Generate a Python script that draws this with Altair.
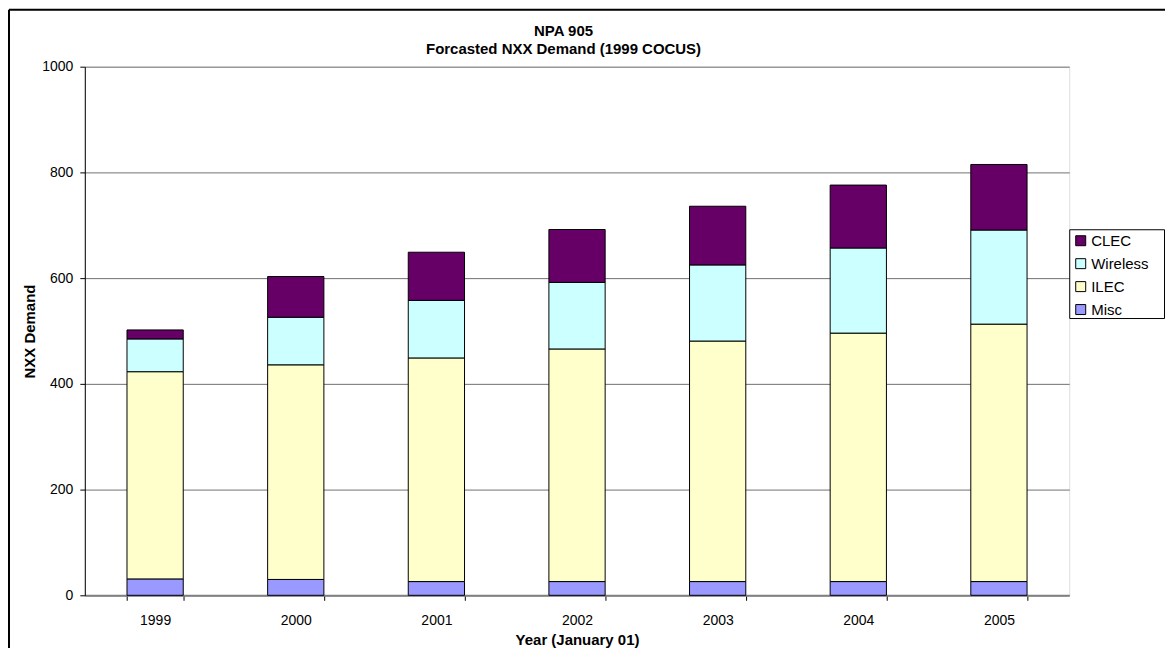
import altair as alt
import pandas as pd

years = ["1999", "2000", "2001", "2002", "2003", "2004", "2005"]
misc = [31, 30, 26, 26, 26, 26, 26]
ilec = [392, 406, 423, 440, 455, 470, 487]
wireless = [62, 90, 109, 126, 144, 161, 178]
clec = [17, 77, 91, 100, 111, 119, 124]

series_names = ["CLEC", "Wireless", "ILEC", "Misc"]
series_colors = ["#660066", "#CCFFFF", "#FFFFCC", "#9999FF"]
y_ticks = [0, 200, 400, 600, 800, 1000]
title_lines = ["NPA 905", "Forcasted NXX Demand (1999 COCUS)"]

rows = []
for rank, (name, vals) in enumerate([("Misc", misc), ("ILEC", ilec), ("Wireless", wireless), ("CLEC", clec)]):
    for yr, v in zip(years, vals):
        rows.append({"year": yr, "series": name, "value": v, "rank": rank})
df = pd.DataFrame(rows)

FONT = "Liberation Sans"
W, H = 987, 530
PL, PT = 77, 58
TOTW, TOTH = 1160, 640
PR = TOTW - PL - W
PB = TOTH - PT - H

one = pd.DataFrame({"k": [0]})
legend_box = alt.Chart(one).mark_rect(fill="white", stroke="black", strokeWidth=1).encode(
    x=alt.value(W + 0.5), x2=alt.value(W + 95.5), y=alt.value(163.5), y2=alt.value(252.5)
)

bars = alt.Chart(df).mark_bar(stroke="black", strokeWidth=1).encode(
    x=alt.X(
        "year:O",
        title="Year (January 01)",
        scale=alt.Scale(paddingInner=0.6, paddingOuter=0.3),
        axis=alt.Axis(
            labelAngle=0, tickBand="extent", tickSize=5, tickColor="black",
            domainColor="#808080", domainWidth=2, labelPadding=13,
            labelFontSize=14, labelColor="black", labelFont=FONT,
            titleFont=FONT, titleFontSize=15, titleFontWeight="bold", titleColor="black",
            titleY=49.5, titleBaseline="alphabetic", grid=False,
        ),
    ),
    y=alt.Y(
        "value:Q",
        stack="zero",
        title="NXX Demand",
        scale=alt.Scale(domain=[0, 1000], nice=False),
        axis=alt.Axis(
            values=y_ticks, format="d", tickSize=5, tickColor="black", domainColor="black",
            gridColor="#707070", gridWidth=1, labelPadding=7,
            labelFontSize=14, labelColor="black", labelFont=FONT,
            titleFont=FONT, titleFontSize=15, titleFontWeight="bold", titleColor="black",
            titleX=-55, titleY=H / 2, titleAngle=270, titleAlign="center", titleBaseline="middle",
        ),
    ),
    color=alt.Color(
        "series:N",
        scale=alt.Scale(domain=series_names, range=series_colors),
        legend=alt.Legend(
            title=None, orient="none", legendX=W, legendY=163,
            symbolType="square", symbolSize=100, symbolStrokeColor="black", symbolStrokeWidth=1,
            symbolOpacity=1,
            labelFont=FONT, labelFontSize=15, labelColor="black", labelOffset=3,
            rowPadding=7, padding=4,
        ),
    ),
    order=alt.Order("rank:Q", sort="ascending"),
)

tdf = pd.DataFrame({"line": title_lines, "idx": [0, 1]})
title_marks = alt.Chart(tdf).mark_text(
    font=FONT, fontSize=15, fontWeight="bold", color="black", align="center", baseline="alphabetic"
).encode(
    text="line:N",
    x=alt.value(480),
    y=alt.Y("idx:O", scale=alt.Scale(type="point", range=[-31, -13], padding=0), axis=None),
)

frame_left = alt.Chart(one).mark_rule(color="black", strokeWidth=2).encode(
    x=alt.value(-PL + 1), y=alt.value(-PT + 1), y2=alt.value(H + PB + 20)
)
frame_top = alt.Chart(one).mark_rule(color="black", strokeWidth=2).encode(
    x=alt.value(-PL + 1), x2=alt.value(W + PR + 20), y=alt.value(-PT + 1)
)

chart = alt.layer(legend_box, bars, title_marks, frame_left, frame_top).resolve_scale(y="independent").properties(
    width=W,
    height=H,
    padding={"left": PL, "top": PT, "right": PR, "bottom": PB},
    autosize=alt.AutoSizeParams(type="none"),
).configure_view(stroke=None).configure(background="white")

chart.save("out.html", embed_options={"renderer": "svg", "actions": False})
